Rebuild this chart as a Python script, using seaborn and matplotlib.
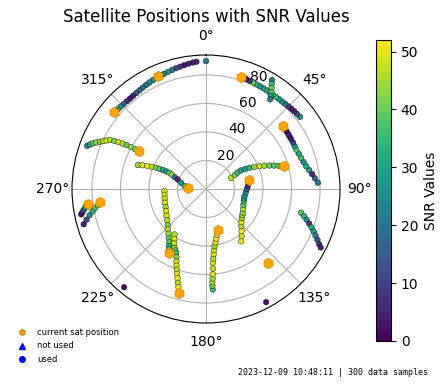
import numpy as np
import pandas as pd
import matplotlib
matplotlib.use("Agg")
import matplotlib.pyplot as plt
from matplotlib.lines import Line2D
import seaborn as sns

# satellite tracks: azimuth (deg), radial value, SNR
s01_az = [355.7, 354, 352, 350, 348, 346, 344, 342, 340, 338.5]
s01_r = [89.5, 89.2, 88.7, 88.2, 87.7, 87.3, 86.8, 86.4, 86.0, 85.8]
s01_snr = [6, 4, 5, 3, 8, 12, 20, 28, 25, 33]

s02_az = [336, 334, 332, 330, 328, 326, 324, 322, 320, 318, 316, 314, 312, 311, 310]
s02_r = [85.4, 85.0, 84.6, 84.2, 83.8, 83.5, 83.2, 83.0, 82.9, 82.9, 83.0, 83.2, 83.4, 83.5, 83.7]
s02_snr = [32, 27, 24, 21, 20, 17, 14, 5, 3, 6, 18, 24, 30, 33, 36]

s03_az = [290, 291, 292, 293, 294, 295, 296, 297, 297.7, 298.2, 298.6, 299, 299.2, 299.4, 299.6]
s03_r = [88.7, 87.2, 85.5, 83.6, 81.6, 79.6, 77.6, 75.6, 72.6, 69.6, 66.6, 63.6, 60.4, 57.2, 54.0]
s03_snr = [22, 30, 38, 44, 42, 47, 49, 45, 42, 48, 46, 40, 44, 41, 45]

s04_az = [289.4, 290.5, 291.5, 292.3, 293.1, 293.5, 293.8, 293.9, 293.9, 292.5, 290.6, 288.6, 284, 278, 271.6]
s04_r = [50.6, 47.5, 44.3, 41.1, 38.0, 35.5, 33.0, 30.5, 28.0, 26.0, 23.4, 20.9, 18.0, 15.2, 12.8]
s04_snr = [44, 48, 50, 47, 42, 38, 32, 30, 40, 45, 20, 5, 28, 32, 35]

s05_az = [52.5, 50.5, 48.6, 46.7, 44.8, 42.9, 41, 39.1, 37.2, 35.3, 33.4, 31.5, 29.6, 27.7, 25.8, 23.9, 22, 20, 18]
s05_r = [83.1, 82.8, 82.5, 82.2, 81.8, 81.5, 81.3, 81.2, 81.1, 81.1, 81.1, 81.2, 81.3, 81.4, 81.5, 81.7, 81.9, 82.2, 82.5]
s05_snr = [25, 12, 5, 4, 8, 22, 26, 30, 35, 38, 36, 32, 30, 28, 33, 40, 6, 4, 18]

s06_az = [31.2, 32, 33, 34, 34.8, 35.6]
s06_r = [89.3, 87.0, 84.5, 82.0, 79.6, 77.3]
s06_snr = [22, 35, 40, 38, 30, 20]

s07_az = [86.8, 84.4, 82, 79.6, 77.2, 74.5, 71.8, 69.1, 66.4, 64.2, 62, 59.8, 57.7, 56, 54.2, 52.5, 50.7]
s07_r = [78.6, 76.8, 75.2, 73.6, 72.1, 71.0, 70.2, 69.6, 69.1, 69.1, 69.2, 69.2, 69.3, 69.4, 69.5, 69.5, 69.6]
s07_snr = [22, 18, 6, 28, 32, 26, 36, 30, 38, 28, 12, 5, 4, 6, 3, 5, 8]

s08_az = [66, 64, 62.5, 62, 63, 64, 65.5, 66.9, 68.3, 69.7, 71, 72.3, 73, 73.7]
s08_r = [19.3, 22.5, 25.0, 27.8, 30.9, 34.0, 37.4, 40.8, 44.1, 47.5, 50.5, 53.5, 55.2, 56.9]
s08_snr = [46, 42, 35, 30, 28, 34, 44, 48, 45, 40, 38, 42, 40, 44]

s09_az = [146, 143, 139.8, 136.6, 133, 129, 125.5, 122.9, 118, 113, 108, 104, 100.6, 95, 90, 86.2, 82]
s09_r = [44.2, 41.5, 38.7, 35.9, 34.0, 32.3, 31.4, 30.7, 29.5, 28.5, 27.9, 27.6, 27.5, 28.0, 28.7, 29.4, 30.2]
s09_snr = [50, 48, 51, 46, 49, 44, 47, 42, 46, 40, 36, 30, 26, 22, 18, 6, 4]

s10_az = [104, 105.5, 107, 108.5, 110, 111.5, 113, 114.5, 116, 117]
s10_r = [68.8, 71.3, 73.8, 76.3, 78.7, 81.1, 83.5, 85.9, 88.3, 90.3]
s10_snr = [38, 34, 26, 8, 32, 28, 22, 14, 8, 4]

s11_az = [176.1, 176.2, 176.1, 175.8, 175.4, 175, 174.7, 174, 173.3, 172.4, 171.5, 170, 168.3, 166.3, 164.5]
s11_r = [70.7, 68.0, 65.5, 63.0, 60.0, 56.0, 52.0, 49.0, 46.0, 43.3, 40.6, 38.0, 35.5, 33.0, 31.0]
s11_snr = [36, 40, 46, 44, 50, 47, 49, 45, 50, 48, 44, 50, 51, 49, 50]

s12_az = [267, 262, 257, 251.5, 246, 241, 236, 231, 226.5, 223.3, 220, 217, 214.5, 213, 211.5]
s12_r = [29.2, 29.4, 29.7, 30.3, 31.0, 32.0, 33.4, 35.0, 37.0, 39.0, 41.0, 43.3, 45.5, 47.6, 49.8]
s12_snr = [48, 50, 47, 49, 44, 50, 48, 46, 42, 47, 45, 38, 40, 32, 38]

s13_az = [214.7, 212.5, 210.3, 208.2, 206.5, 205, 203.5, 202.2, 201, 199.9, 198.8, 197.7, 196.7, 195.7]
s13_r = [38.8, 41.5, 44.2, 46.8, 48.2, 49.4, 52.0, 55.0, 57.6, 60.1, 63.0, 65.8, 68.7, 71.5]
s13_snr = [46, 50, 48, 44, 40, 36, 42, 48, 50, 46, 49, 51, 47, 50]

s14_az = [258.5, 259.4, 260.3, 261.2, 262.1]
s14_r = [89.3, 88.2, 87.0, 85.8, 84.7]
s14_snr = [3, 6, 15, 22, 28]

s15_az = [253.9, 255.6, 257.3, 258.9, 260.2, 261.5, 262.3]
s15_r = [89.3, 86.5, 83.7, 81.0, 78.9, 76.8, 75.8]
s15_snr = [5, 12, 24, 34, 38, 44, 40]

# lone samples
single_az = [0, 152, 219.8]
single_r = [89.7, 89.9, 89.7]
single_snr = [22, 2, 2]

# current positions
cur_az = [337.1, 309.9, 299.6, 271.6, 17.4, 50.7, 73.7, 78.6, 140.1, 164, 210, 194.7, 263, 262.9]
cur_r = [85.7, 83.7, 54.0, 12.8, 82.5, 69.6, 56.9, 31.1, 67.6, 30.1, 52.2, 75.3, 83.5, 74.8]

tracks = [
    (s01_az, s01_r, s01_snr), (s02_az, s02_r, s02_snr), (s03_az, s03_r, s03_snr),
    (s04_az, s04_r, s04_snr), (s05_az, s05_r, s05_snr), (s06_az, s06_r, s06_snr),
    (s07_az, s07_r, s07_snr), (s08_az, s08_r, s08_snr), (s09_az, s09_r, s09_snr),
    (s10_az, s10_r, s10_snr), (s11_az, s11_r, s11_snr), (s12_az, s12_r, s12_snr),
    (s13_az, s13_r, s13_snr), (s14_az, s14_r, s14_snr), (s15_az, s15_r, s15_snr),
    (single_az, single_r, single_snr),
]

rows = []
for az, r, snr in tracks:
    for a, b, c in zip(az, r, snr):
        rows.append((np.deg2rad(a), b, c))
df = pd.DataFrame(rows, columns=["theta", "r", "snr"])
cur = pd.DataFrame({"theta": np.deg2rad(cur_az), "r": cur_r})

vmax = 52
fig = plt.figure(figsize=(4.47, 3.87), dpi=100)
ax = fig.add_axes([72 / 447, 1 - 323 / 387, 268 / 447, 268 / 387], projection="polar")
ax.set_theta_zero_location("N")
ax.set_theta_direction(-1)

sns.scatterplot(data=df, x="theta", y="r", hue="snr", palette="viridis",
                hue_norm=(0, vmax), s=16, edgecolor="black", linewidth=0.3,
                legend=False, ax=ax, zorder=2)
sns.scatterplot(data=cur, x="theta", y="r", color="orange", marker="h", s=55,
                edgecolor="#d98200", linewidth=0.5, ax=ax, zorder=3)

ax.set_ylim(0, 94)
ax.set_yticks([20, 40, 60, 80])
ax.set_xlabel("")
ax.set_ylabel("")
ax.tick_params(labelsize=10)

cax = fig.add_axes([376 / 447, 1 - 341 / 387, 15 / 447, 301 / 387])
sm = plt.cm.ScalarMappable(cmap="viridis", norm=plt.Normalize(0, vmax))
cb = fig.colorbar(sm, cax=cax)
cb.set_ticks([0, 10, 20, 30, 40, 50])
cb.set_label("SNR Values", fontsize=10)

fig.text(206 / 447, 1 - 17 / 387, "Satellite Positions with SNR Values",
         ha="center", va="center", fontsize=12)

handles = [
    Line2D([], [], marker="h", color="orange", markeredgecolor="#d98200", linestyle="none", markersize=4),
    Line2D([], [], marker="^", color="blue", linestyle="none", markersize=4),
    Line2D([], [], marker="o", color="blue", linestyle="none", markersize=4),
]
fig.legend(handles, ["current sat position", "not used", "used"], loc="upper left",
           bbox_to_anchor=(10.7 / 447, 1 - 325 / 387), borderaxespad=0,
           frameon=False, fontsize=6)

fig.text(428 / 447, (387 - 372.7) / 387, "2023-12-09 10:48:11 | 300 data samples",
         ha="right", va="center", fontsize=6, family="DejaVu Sans Mono")

fig.savefig("out.png", dpi=100)
